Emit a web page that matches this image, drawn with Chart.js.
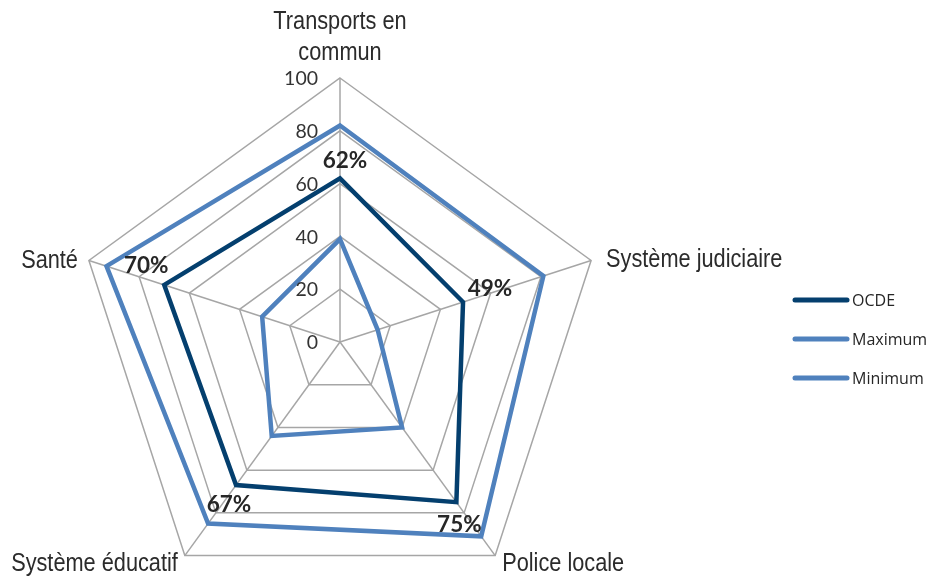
<!DOCTYPE html>
<html>
<head>
<meta charset="utf-8">
<script src="https://cdn.jsdelivr.net/npm/chart.js@4"></script>
<style>
html,body{margin:0;padding:0;background:#fff;overflow:hidden;width:930px;height:577px;}
#wrap{position:absolute;left:0;top:0;width:930px;height:684px;}
</style>
</head>
<body>
<div id="wrap"><canvas id="c"></canvas></div>
<script>
const categories = [["Transports en","commun"], "Système judiciaire", "Police locale", "Système éducatif", "Santé"];
const ocde = [62, 49, 75, 67, 70];
const maximum = [82, 81, 91, 85, 93];
const minimum = [39, 15, 40, 44, 31];
const tickValues = [0, 20, 40, 60, 80, 100];
const ocdeLabels = ["62%", "49%", "75%", "67%", "70%"];

const DARK = '#043f6e';
const LIGHT = '#4f81bd';
const GRID = '#a6a6a6';

const overlay = {
  id: 'overlay',
  afterDatasetsDraw(chart) {
    const ctx = chart.ctx;
    const s = chart.scales.r;
    ctx.save();
    // tick labels
    ctx.font = '19.5px Lato, "Open Sans", sans-serif';
    ctx.fillStyle = '#333333';
    ctx.textAlign = 'right';
    ctx.textBaseline = 'middle';
    tickValues.forEach(v => {
      const y = s.yCenter - s.getDistanceFromCenterForValue(v);
      ctx.fillText(String(v), s.xCenter - 22, y + 1);
    });
    // point labels (condensed by horizontal scaling)
    const SX = 0.82;
    ctx.font = '26.5px "Liberation Sans", Arial, sans-serif';
    ctx.fillStyle = '#2b2b2b';
    const cfg = [
      {a:'center', dx:0, dy:-56},
      {a:'left', dx:15, dy:-1},
      {a:'left', dx:7, dy:8},
      {a:'right', dx:-7, dy:8},
      {a:'right', dx:-11, dy:0}
    ];
    categories.forEach((lab, i) => {
      const p = s.getPointPosition(i, s.drawingArea);
      const c = cfg[i];
      ctx.textAlign = c.a;
      const lines = Array.isArray(lab) ? lab : [lab];
      lines.forEach((ln, k) => {
        ctx.save();
        ctx.translate(p.x + c.dx, p.y + c.dy + k * 31);
        ctx.scale(SX, 1);
        ctx.fillText(ln, 0, 0);
        ctx.restore();
      });
    });
    // data labels for OCDE
    const meta = chart.getDatasetMeta(0);
    const offs = [[5,-18],[27,-13],[3,23],[-7,20],[-18,-19]];
    ctx.font = 'bold 22.5px Lato, "Open Sans", sans-serif';
    ctx.fillStyle = '#262626';
    ctx.textAlign = 'center';
    meta.data.forEach((pt, i) => {
      ctx.fillText(ocdeLabels[i], pt.x + offs[i][0], pt.y + offs[i][1]);
    });
    // legend
    const ly = [300, 339, 378];
    ctx.font = '16px "Open Sans", Lato, sans-serif';
    ctx.textAlign = 'left';
    ctx.lineCap = 'round';
    chart.data.datasets.forEach((ds, i) => {
      ctx.strokeStyle = ds.borderColor;
      ctx.lineWidth = 5;
      ctx.beginPath();
      ctx.moveTo(795, ly[i]);
      ctx.lineTo(847, ly[i]);
      ctx.stroke();
      ctx.fillStyle = '#262626';
      ctx.fillText(ds.label, 852, ly[i] + 1);
    });
    ctx.restore();
  }
};

new Chart(document.getElementById('c'), {
  type: 'radar',
  data: {
    labels: categories,
    datasets: [
      {label: 'OCDE', data: ocde, borderColor: DARK, borderWidth: 4.5, fill: false, pointRadius: 0, borderJoinStyle: 'miter'},
      {label: 'Maximum', data: maximum, borderColor: LIGHT, borderWidth: 4.5, fill: false, pointRadius: 0, borderJoinStyle: 'miter'},
      {label: 'Minimum', data: minimum, borderColor: LIGHT, borderWidth: 4.5, fill: false, pointRadius: 0, borderJoinStyle: 'miter'}
    ]
  },
  options: {
    responsive: true,
    maintainAspectRatio: false,
    animation: false,
    layout: {padding: {left: 76, right: 326, top: 78, bottom: 78}},
    plugins: {legend: {display: false}, tooltip: {enabled: false}},
    scales: {
      r: {
        min: 0, max: 100,
        ticks: {display: false, stepSize: 20},
        pointLabels: {display: false},
        grid: {color: GRID, lineWidth: 1.5},
        angleLines: {color: GRID, lineWidth: 1.5}
      }
    }
  },
  plugins: [overlay]
});
</script>
</body>
</html>
